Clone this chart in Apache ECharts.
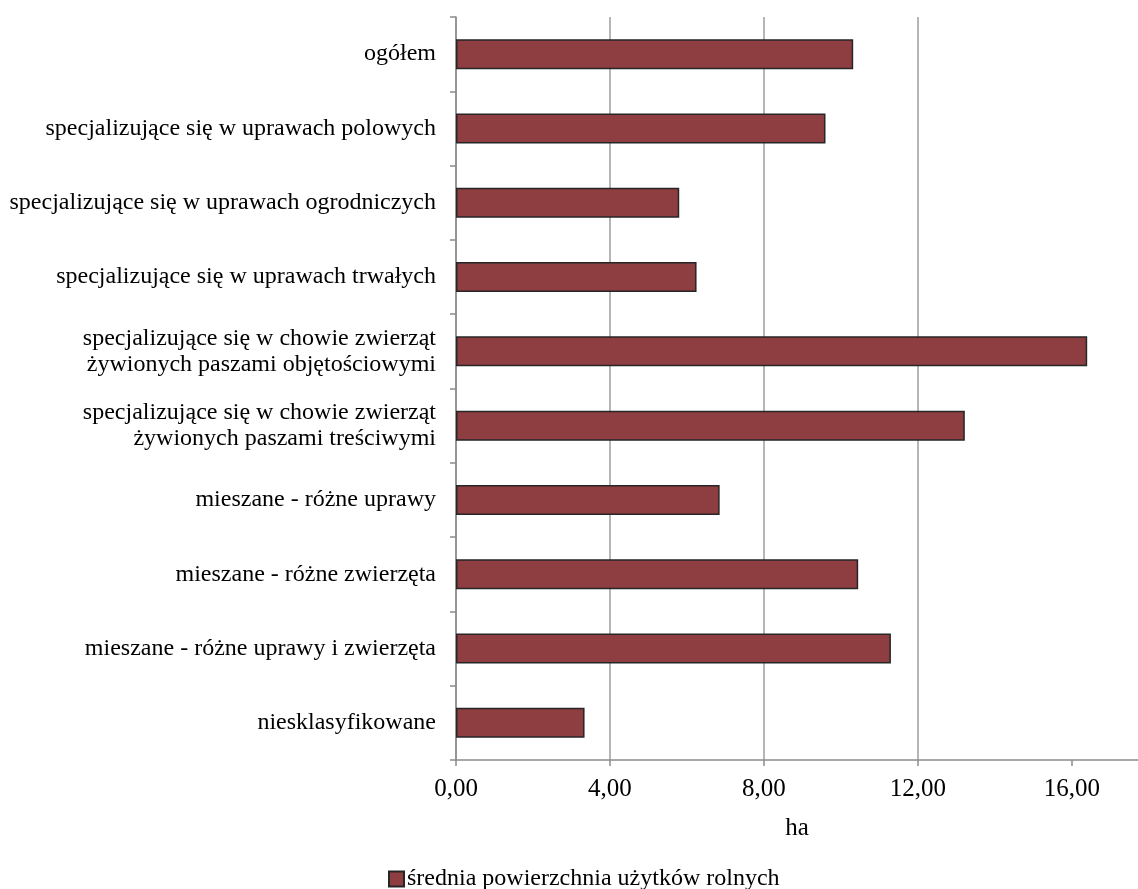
<!DOCTYPE html>
<html>
<head>
<meta charset="utf-8">
<script src="https://cdn.jsdelivr.net/npm/echarts@6/dist/echarts.min.js"></script>
<style>
  html, body { margin: 0; padding: 0; background: #ffffff; }
  #chart { width: 1138px; height: 889px; }
</style>
</head>
<body>
<div id="chart"></div>
<script>
const categories = [
  'ogółem',
  'specjalizujące się w uprawach polowych',
  'specjalizujące się w uprawach ogrodniczych',
  'specjalizujące się w uprawach trwałych',
  'specjalizujące się w chowie zwierząt\nżywionych paszami objętościowymi',
  'specjalizujące się w chowie zwierząt\nżywionych paszami treściwymi',
  'mieszane - różne uprawy',
  'mieszane - różne zwierzęta',
  'mieszane - różne uprawy i zwierzęta',
  'niesklasyfikowane'
];
const seriesName = 'średnia powierzchnia użytków rolnych';
const values = [10.32, 9.6, 5.8, 6.25, 16.4, 13.22, 6.85, 10.45, 11.3, 3.34];
const axisName = 'ha';
const xMin = 0, xMax = 17.72, xInterval = 4;

const FONT = '"Liberation Serif", "Times New Roman", serif';
const chart = echarts.init(document.getElementById('chart'));
chart.setOption({
  backgroundColor: '#ffffff',
  animation: false,
  textStyle: { fontFamily: FONT, color: '#000' },
  grid: { left: 456, top: 17, right: 0, height: 743, containLabel: false },
  xAxis: {
    type: 'value',
    min: xMin, max: xMax, interval: xInterval,
    name: axisName,
    nameLocation: 'middle',
    nameGap: 56,
    nameTextStyle: { fontFamily: FONT, fontSize: 25, color: '#000' },
    axisLine: { show: true, lineStyle: { color: '#8c8c8c', width: 1.5 } },
    axisTick: { show: true, length: 6, inside: false, lineStyle: { color: '#8c8c8c', width: 1.5 },
      customValues: [0, 4, 8, 12, 16] },
    axisLabel: {
      fontFamily: FONT, fontSize: 25, color: '#000', margin: 17,
      showMaxLabel: false,
      formatter: v => v.toFixed(2).replace('.', ',')
    },
    splitLine: { show: true, showMaxLine: false, lineStyle: { color: '#9c9c9c', width: 1.5 } }
  },
  yAxis: {
    type: 'category',
    data: categories,
    inverse: true,
    axisLine: { show: true, lineStyle: { color: '#8c8c8c', width: 1.5 } },
    axisTick: { show: true, length: 6, alignWithLabel: false, lineStyle: { color: '#8c8c8c', width: 1.5 } },
    axisLabel: { fontFamily: FONT, fontSize: 24, color: '#000', margin: 20, lineHeight: 26, align: 'right' },
    splitLine: { show: false }
  },
  legend: {
    data: [seriesName],
    left: 383,
    top: 862,
    icon: 'rect',
    itemWidth: 15,
    itemHeight: 15,
    itemGap: 6,
    textStyle: { fontFamily: FONT, fontSize: 24, color: '#000', padding: [0, 0, 0, -2] }
  },
  series: [{
    name: seriesName,
    type: 'bar',
    data: values,
    barWidth: 30,
    itemStyle: { color: '#8e3e40', borderColor: '#262626', borderWidth: 1.5 }
  }]
});
</script>
</body>
</html>
